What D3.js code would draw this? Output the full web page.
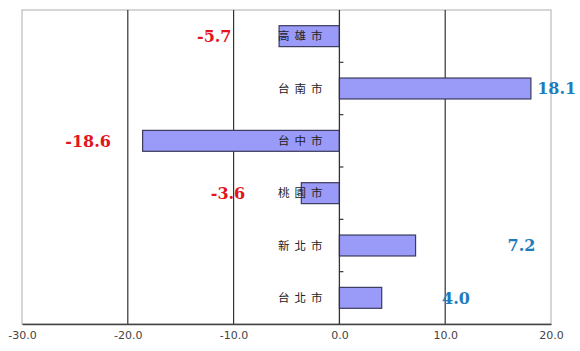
<!DOCTYPE html>
<html>
<head>
    <meta charset="utf-8">
    <title>Chart</title>
    <style>
        html, body { margin: 0; padding: 0; background: #fff; overflow: hidden; }
        svg { display: block; }
        .tick text { font-family: "DejaVu Sans", Verdana, sans-serif; font-size: 11px; fill: #444; }
    </style>
</head>
<body>
    <svg></svg>
    <script src="https://d3js.org/d3.v7.min.js"></script>
    <script>
        const cities = ['高雄市', '台南市', '台中市', '桃園市', '新北市', '台北市'];
        const values = [-5.7, 18.1, -18.6, -3.6, 7.2, 4.0];
        // where each value label sits, in axis units
        const labelAt = [-10.2, 18.7, -21.6, -8.9, 15.9, 9.7];
        const xTicks = [-30, -20, -10, 0, 10, 20];

        const width = 580;
        const height = 351;
        const margin = { top: 10, right: 29, bottom: 27, left: 22 };
        const innerWidth = width - margin.left - margin.right;
        const innerHeight = height - margin.top - margin.bottom;

        const svg = d3.select('svg').attr('width', width).attr('height', height);
        const g = svg.append('g').attr('transform', `translate(${margin.left},${margin.top})`);

        const xScale = d3.scaleLinear().domain([-30, 20]).range([0, innerWidth]);
        const yScale = d3.scaleBand().domain(cities).range([0, innerHeight])
            .paddingInner(0.6).paddingOuter(0.3);

        // frame
        g.append('rect').attr('width', innerWidth).attr('height', innerHeight)
            .attr('fill', 'none').attr('stroke', '#bbb').attr('stroke-width', 1.2);

        // gridlines
        g.selectAll('.grid').data(xTicks.filter(t => t !== -30 && t !== 20 && t !== 0)).enter()
            .append('line')
            .attr('x1', d => xScale(d)).attr('x2', d => xScale(d))
            .attr('y1', 0).attr('y2', innerHeight)
            .attr('stroke', '#333').attr('stroke-width', 1.2);

        // bottom axis
        const xAxis = g.append('g').attr('transform', `translate(0,${innerHeight})`)
            .call(d3.axisBottom(xScale).tickValues(xTicks).tickFormat(d3.format('.1f')).tickSize(0).tickPadding(7));
        xAxis.select('.domain').attr('stroke', '#444').attr('stroke-width', 1.3);
        xAxis.selectAll('.tick text').text(d => d3.format('.1f')(d).replace('−', '-'));

        // bars
        g.selectAll('.bar').data(values).enter().append('rect')
            .attr('x', d => xScale(Math.min(0, d)))
            .attr('y', (d, i) => yScale(cities[i]))
            .attr('width', d => Math.abs(xScale(d) - xScale(0)))
            .attr('height', yScale.bandwidth())
            .attr('fill', '#9a9af8').attr('stroke', '#3a3a5c').attr('stroke-width', 1.2);

        // zero axis with ticks between categories
        g.append('line')
            .attr('x1', xScale(0)).attr('x2', xScale(0))
            .attr('y1', 0).attr('y2', innerHeight)
            .attr('stroke', '#333').attr('stroke-width', 1.3);
        const step = yScale.step();
        g.selectAll('.ytick').data(cities.slice(1)).enter().append('line')
            .attr('x1', xScale(0)).attr('x2', xScale(0) + 4)
            .attr('y1', d => yScale(d) - yScale.paddingInner() * step / 2)
            .attr('y2', d => yScale(d) - yScale.paddingInner() * step / 2)
            .attr('stroke', '#333').attr('stroke-width', 1.2);

        // category labels
        g.selectAll('.cat').data(cities).enter().append('text')
            .attr('x', xScale(0) - 12)
            .attr('y', d => yScale(d) + yScale.bandwidth() / 2)
            .attr('dy', '0.36em')
            .attr('text-anchor', 'end')
            .attr('font-family', '"Noto Sans CJK TC", sans-serif')
            .attr('font-size', 11.5)
            .attr('letter-spacing', 5)
            .attr('fill', '#222')
            .text(d => d);

        // value labels
        g.selectAll('.val').data(values).enter().append('text')
            .attr('x', (d, i) => xScale(labelAt[i]))
            .attr('y', (d, i) => yScale(cities[i]) + yScale.bandwidth() / 2)
            .attr('dy', '0.36em')
            .attr('text-anchor', d => d < 0 ? 'end' : 'start')
            .attr('font-family', '"DejaVu Serif", "Liberation Serif", serif')
            .attr('font-weight', 'bold')
            .attr('font-size', 16)
            .attr('fill', d => d < 0 ? '#e3141b' : '#1f7cbc')
            .text(d => d3.format('.1f')(d).replace('−', '-'));
    </script>
</body>
</html>
